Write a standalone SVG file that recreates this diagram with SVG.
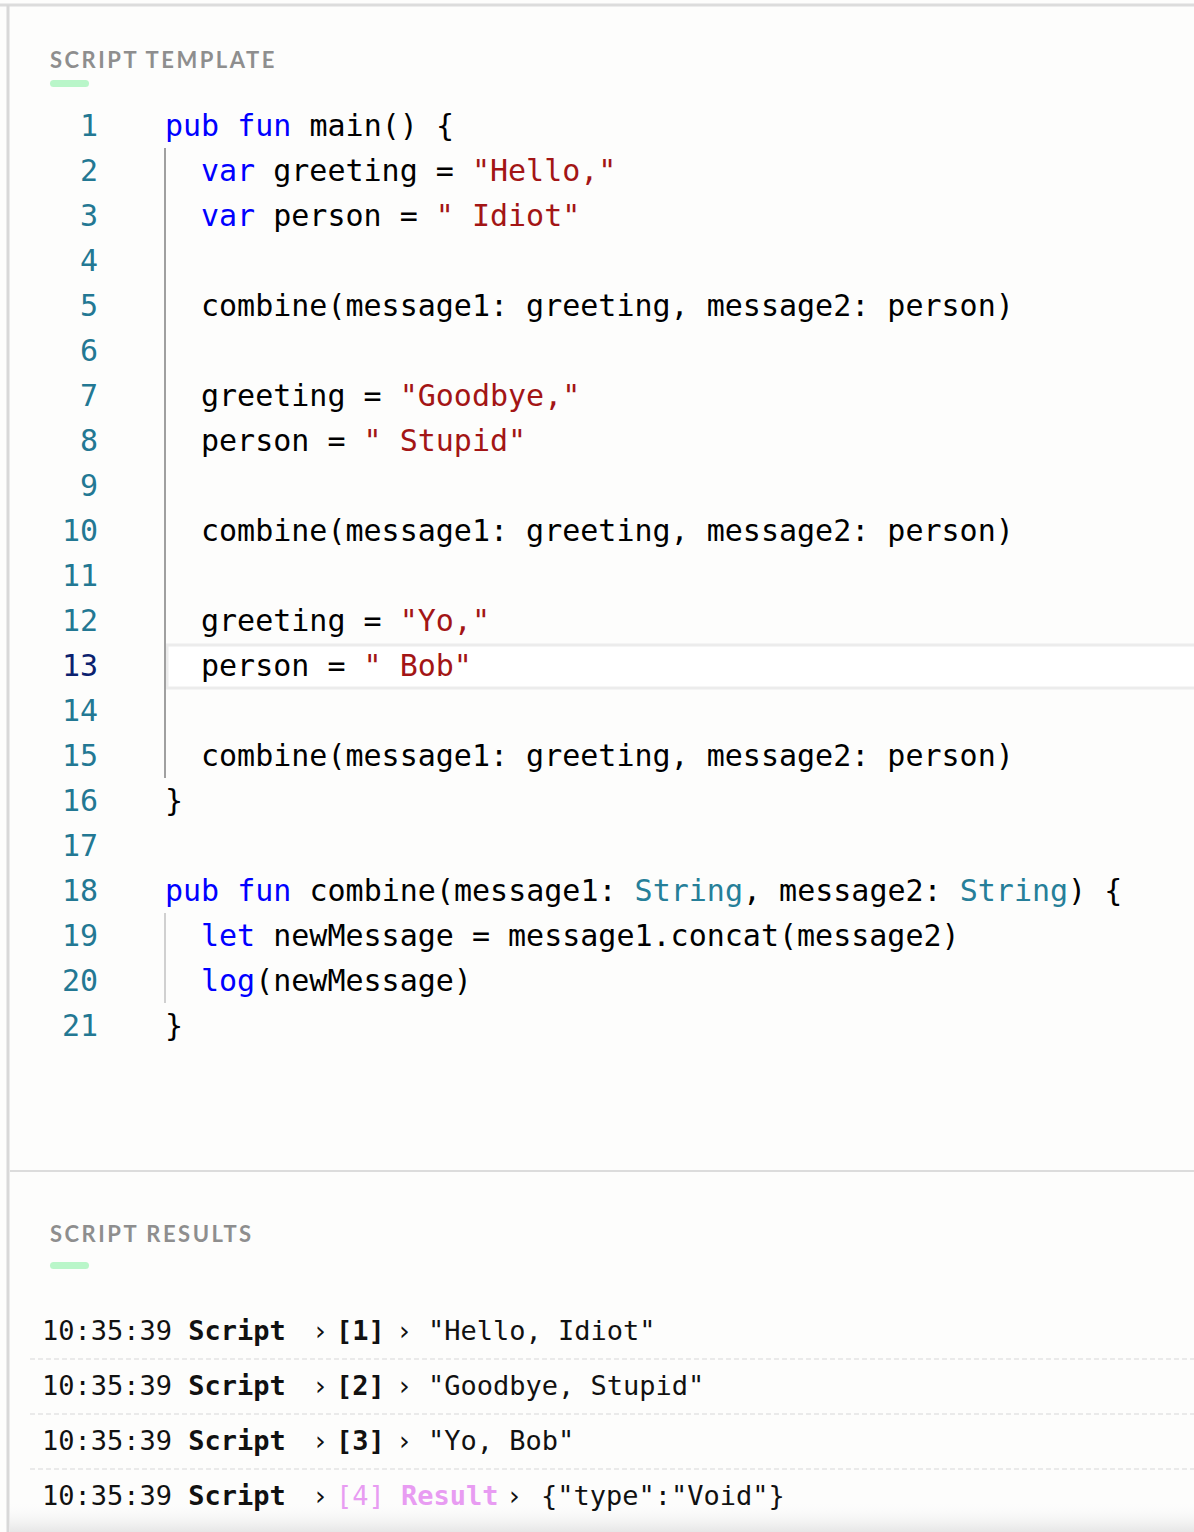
<svg xmlns="http://www.w3.org/2000/svg" width="1194" height="1532" viewBox="0 0 1194 1532">
<defs>
<linearGradient id="fade" x1="0" y1="0" x2="0" y2="1"><stop offset="0" stop-color="#fff" stop-opacity="0"/><stop offset="1" stop-color="#e6e6e6"/></linearGradient>
</defs>
<style>
text{font-family:"DejaVu Sans Mono","Liberation Mono",monospace}
.c{font-size:30px;fill:#000}
.n{font-size:30px;fill:#237893;text-anchor:end}
.k{fill:#0000ff}.s{fill:#a31515}.t{fill:#267f99}
.h{font-family:"Lato","Liberation Sans",sans-serif;font-size:22px;font-weight:bold;fill:#8e8e8e;letter-spacing:2.5px}
.r{font-size:27px;fill:#111}
.b{font-weight:bold}
.p{fill:#e89cf2}
</style>
<rect width="1194" height="1532" fill="#fdfdfc"/>
<line x1="0" y1="5" x2="1194" y2="5" stroke="#dcdcdc" stroke-width="3"/>
<line x1="8" y1="5" x2="8" y2="1532" stroke="#d8d8d8" stroke-width="3"/>
<g id="editor">
<text class="h" x="50" y="68">SCRIPT TEMPLATE</text>
<rect x="50" y="80" width="39" height="7" rx="3.5" fill="#b9f6c9"/>
<rect x="167" y="645" width="1030" height="43" fill="#fff" stroke="#ececec" stroke-width="3"/>
<line x1="165" y1="148" x2="165" y2="778" stroke="#a0a0a0" stroke-width="2"/>
<line x1="165" y1="913" x2="165" y2="1003" stroke="#d0d0d0" stroke-width="2"/>
<g class="n">
<text x="98" y="136">1</text><text x="98" y="181">2</text><text x="98" y="226">3</text><text x="98" y="271">4</text><text x="98" y="316">5</text><text x="98" y="361">6</text><text x="98" y="406">7</text><text x="98" y="451">8</text><text x="98" y="496">9</text><text x="98" y="541">10</text><text x="98" y="586">11</text><text x="98" y="631">12</text><text x="98" y="676" style="fill:#0b216f">13</text><text x="98" y="721">14</text><text x="98" y="766">15</text><text x="98" y="811">16</text><text x="98" y="856">17</text><text x="98" y="901">18</text><text x="98" y="946">19</text><text x="98" y="991">20</text><text x="98" y="1036">21</text>
</g>
<g class="c" xml:space="preserve">
<text x="165" y="136"><tspan class="k">pub</tspan> <tspan class="k">fun</tspan> main() {</text>
<text x="201" y="181"><tspan class="k">var</tspan> greeting = <tspan class="s">"Hello,"</tspan></text>
<text x="201" y="226"><tspan class="k">var</tspan> person = <tspan class="s">" Idiot"</tspan></text>
<text x="201" y="316">combine(message1: greeting, message2: person)</text>
<text x="201" y="406">greeting = <tspan class="s">"Goodbye,"</tspan></text>
<text x="201" y="451">person = <tspan class="s">" Stupid"</tspan></text>
<text x="201" y="541">combine(message1: greeting, message2: person)</text>
<text x="201" y="631">greeting = <tspan class="s">"Yo,"</tspan></text>
<text x="201" y="676">person = <tspan class="s">" Bob"</tspan></text>
<text x="201" y="766">combine(message1: greeting, message2: person)</text>
<text x="165" y="811">}</text>
<text x="165" y="901"><tspan class="k">pub</tspan> <tspan class="k">fun</tspan> combine(message1: <tspan class="t">String</tspan>, message2: <tspan class="t">String</tspan>) {</text>
<text x="201" y="946"><tspan class="k">let</tspan> newMessage = message1.concat(message2)</text>
<text x="201" y="991"><tspan class="k">log</tspan>(newMessage)</text>
<text x="165" y="1036">}</text>
</g>
</g>
<line x1="10" y1="1171" x2="1194" y2="1171" stroke="#dcdcdc" stroke-width="2"/>
<g id="results">
<text class="h" x="50" y="1242">SCRIPT RESULTS</text>
<rect x="50" y="1262" width="39" height="7" rx="3.5" fill="#b9f6c9"/>
<g stroke="#e4e4e4" stroke-width="1.5" stroke-dasharray="5,3">
<line x1="30" y1="1359" x2="1194" y2="1359"/><line x1="30" y1="1414" x2="1194" y2="1414"/><line x1="30" y1="1469" x2="1194" y2="1469"/>
</g>
<rect x="10" y="1500" width="1184" height="32" fill="url(#fade)"/>
<g class="r">
<text x="42" y="1340">10:35:39 <tspan class="b">Script</tspan></text><text x="312" y="1340">›</text><text x="336" y="1340" class="b">[1]</text><text x="396" y="1340">›</text><text x="428" y="1340">"Hello, Idiot"</text>
<text x="42" y="1395">10:35:39 <tspan class="b">Script</tspan></text><text x="312" y="1395">›</text><text x="336" y="1395" class="b">[2]</text><text x="396" y="1395">›</text><text x="428" y="1395">"Goodbye, Stupid"</text>
<text x="42" y="1450">10:35:39 <tspan class="b">Script</tspan></text><text x="312" y="1450">›</text><text x="336" y="1450" class="b">[3]</text><text x="396" y="1450">›</text><text x="428" y="1450">"Yo, Bob"</text>
<text x="42" y="1505">10:35:39 <tspan class="b">Script</tspan></text><text x="312" y="1505">›</text><text x="336" y="1505" class="p">[4] <tspan class="b">Result</tspan></text><text x="506" y="1505">›</text><text x="541" y="1505">{"type":"Void"}</text>
</g>
</g>
</svg>
